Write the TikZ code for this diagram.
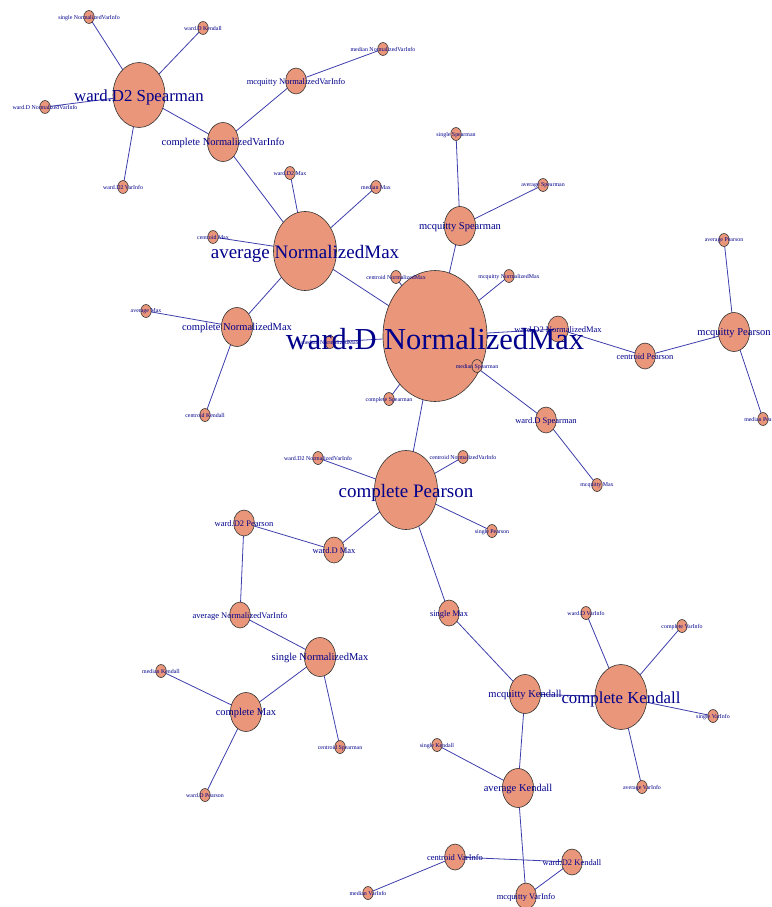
\documentclass[tikz,border=0pt]{standalone}
\usepackage{fontspec}
\setmainfont{Liberation Serif}
\usetikzlibrary{shapes.geometric}
\definecolor{vfill}{RGB}{233,150,122}
\definecolor{edgec}{RGB}{62,62,172}
\definecolor{labc}{RGB}{0,0,139}
\pgfdeclarelayer{background}
\pgfdeclarelayer{fg}
\pgfsetlayers{background,main,fg}
\tikzset{
  vbase/.style={ellipse, draw={black!80}, line width=0.6pt, fill=vfill, inner sep=0pt},
  v1/.style={vbase, minimum width=10.4pt, minimum height=13pt},
  v2/.style={vbase, minimum width=20.8pt, minimum height=26pt},
  v3/.style={vbase, minimum width=31.2pt, minimum height=39pt},
  v5/.style={vbase, minimum width=52pt, minimum height=65pt},
  v6/.style={vbase, minimum width=63pt, minimum height=79pt},
  v10/.style={vbase, minimum width=104pt, minimum height=131pt},
  lbase/.style={text=labc, inner sep=0pt},
  l1/.style={lbase, yshift=-0.6pt, font=\fontsize{5.9}{6}\selectfont},
  l2/.style={lbase, yshift=-1pt, font=\fontsize{8.5}{9}\selectfont},
  l3/.style={lbase, yshift=-1.3pt, font=\fontsize{10.5}{11}\selectfont},
  l5/.style={lbase, yshift=-2pt, font=\fontsize{16.8}{17}\selectfont},
  l6/.style={lbase, yshift=-2.6pt, font=\fontsize{19}{19}\selectfont},
  l10/.style={lbase, yshift=-3.5pt, font=\fontsize{30.5}{31}\selectfont},
  edge/.style={draw=edgec, line width=0.8pt}
}
\newcommand\Vtx[5]{%
  \node[v#2] (#1) at (#3,#4) {};
  \begin{pgfonlayer}{fg}\node[l#2] (#1-l) at (#1) {#5};\end{pgfonlayer}}
\begin{document}
\begin{tikzpicture}[x=1pt,y=-1pt]
\useasboundingbox (0,0) rectangle (771,907);
\Vtx{sNVI}{1}{89}{17}{single NormalizedVarInfo}
\Vtx{wDK}{1}{203}{28}{ward.D Kendall}
\Vtx{wDNVI}{1}{45}{107}{ward.D NormalizedVarInfo}
\Vtx{wD2VI}{1}{123}{187}{ward.D2 VarInfo}
\Vtx{wD2S}{5}{139}{95}{ward.D2 Spearman}
\Vtx{cNVI}{3}{223}{142}{complete NormalizedVarInfo}
\Vtx{mcNVI}{2}{296}{81}{mcquitty NormalizedVarInfo}
\Vtx{medNVI}{1}{383}{49}{median NormalizedVarInfo}
\Vtx{aNM}{6}{305}{251}{average NormalizedMax}
\Vtx{wD2M}{1}{290}{173}{ward.D2 Max}
\Vtx{medM}{1}{376}{187}{median Max}
\Vtx{cenM}{1}{213}{237}{centroid Max}
\Vtx{cNM}{3}{237}{327}{complete NormalizedMax}
\Vtx{aM}{1}{146}{311}{average Max}
\Vtx{cenK}{1}{205}{415}{centroid Kendall}
\Vtx{wDNM}{10}{435}{336}{ward.D NormalizedMax}
\Vtx{cenNM}{1}{396}{277}{centroid NormalizedMax}
\Vtx{mcNM}{1}{509}{276}{mcquitty NormalizedMax}
\Vtx{wD2NM}{2}{558}{329}{ward.D2 NormalizedMax}
\Vtx{medNM}{1}{330}{342}{median NormalizedMax}
\Vtx{medS}{1}{477}{366}{median Spearman}
\Vtx{cS}{1}{389}{399}{complete Spearman}
\Vtx{wDS}{2}{546}{420}{ward.D Spearman}
\Vtx{mcM}{1}{597}{485}{mcquitty Max}
\Vtx{mcS}{3}{460}{226}{mcquitty Spearman}
\Vtx{sS}{1}{456}{134}{single Spearman}
\Vtx{aS}{1}{543}{185}{average Spearman}
\Vtx{cenP}{2}{645}{356}{centroid Pearson}
\Vtx{mcP}{3}{734}{332}{mcquitty Pearson}
\Vtx{aP}{1}{724}{240}{average Pearson}
\Vtx{medP}{1}{763}{419}{median Pearson}
\Vtx{cP}{6}{406}{490}{complete Pearson}
\Vtx{wD2NVI}{1}{318}{458}{ward.D2 NormalizedVarInfo}
\Vtx{cenNVI}{1}{463}{457}{centroid NormalizedVarInfo}
\Vtx{sP}{1}{492}{531}{single Pearson}
\Vtx{wDM}{2}{334}{550}{ward.D Max}
\Vtx{wD2P}{2}{244}{523}{ward.D2 Pearson}
\Vtx{aNVI}{2}{240}{615}{average NormalizedVarInfo}
\Vtx{sNM}{3}{320}{657}{single NormalizedMax}
\Vtx{cM}{3}{246}{712}{complete Max}
\Vtx{medK}{1}{161}{671}{median Kendall}
\Vtx{cenS}{1}{340}{747}{centroid Spearman}
\Vtx{wDP}{1}{205}{795}{ward.D Pearson}
\Vtx{sM}{2}{449}{613}{single Max}
\Vtx{mcK}{3}{525}{694}{mcquitty Kendall}
\Vtx{cK}{5}{621}{697}{complete Kendall}
\Vtx{wDVI}{1}{586}{613}{ward.D VarInfo}
\Vtx{cVI}{1}{682}{626}{complete VarInfo}
\Vtx{sVI}{1}{713}{716}{single VarInfo}
\Vtx{aVI}{1}{642}{787}{average VarInfo}
\Vtx{aK}{3}{518}{788}{average Kendall}
\Vtx{sK}{1}{437}{745}{single Kendall}
\Vtx{mcVI}{2}{526}{896}{mcquitty VarInfo}
\Vtx{wD2K}{2}{572}{862}{ward.D2 Kendall}
\Vtx{cenVI}{2}{455}{857}{centroid VarInfo}
\Vtx{medVI}{1}{368}{893}{median VarInfo}
\begin{pgfonlayer}{background}
\foreach \a/\b in {wD2S/sNVI, wD2S/wDK, wD2S/wDNVI, wD2S/wD2VI, wD2S/cNVI,
  cNVI/mcNVI, mcNVI/medNVI, cNVI/aNM, aNM/wD2M, aNM/medM, aNM/cenM, aNM/cNM,
  aNM/wDNM, cNM/aM, cNM/cenK, wDNM/cenNM, wDNM/mcNM, wDNM/wD2NM, wDNM/medS,
  wDNM/wDS, wDS/mcM, wDNM/cS, wDNM/mcS, mcS/sS, mcS/aS, wD2NM/cenP, cenP/mcP,
  mcP/aP, mcP/medP, wDNM/cP, wDNM/medNM, cP/wD2NVI, cP/cenNVI, cP/sP, cP/wDM,
  wDM/wD2P, wD2P/aNVI, aNVI/sNM, sNM/cM, sNM/cenS, cM/medK, cM/wDP, cP/sM,
  sM/mcK, mcK/cK, cK/wDVI, cK/cVI, cK/sVI, cK/aVI, mcK/aK, aK/sK, aK/mcVI,
  cenVI/wD2K, wD2K/mcVI, cenVI/medVI}
  \draw[edge] (\a.center) -- (\b.center);
\end{pgfonlayer}
\end{tikzpicture}
\end{document}
